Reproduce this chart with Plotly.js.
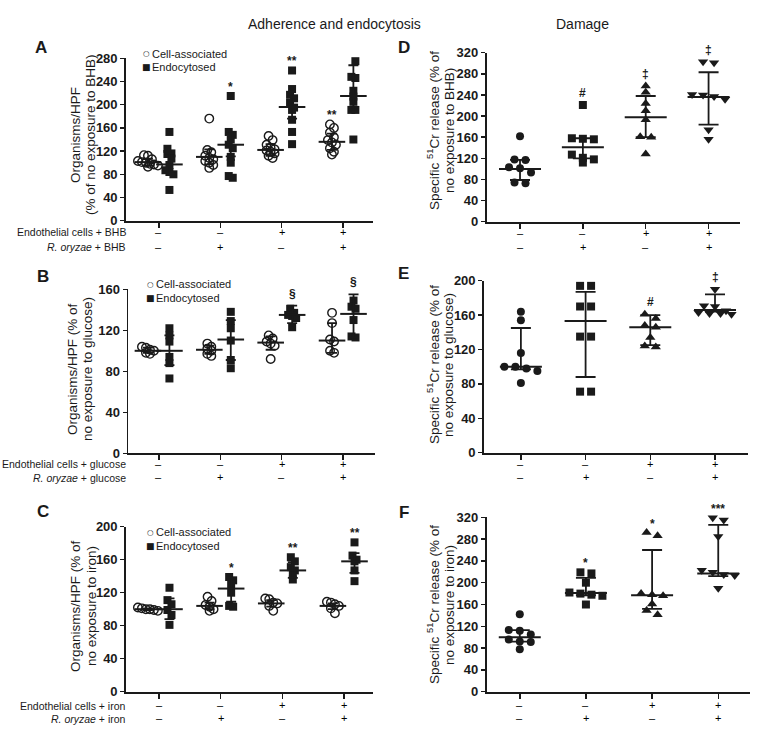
<!DOCTYPE html>
<html><head><meta charset="utf-8">
<script src="https://cdn.plot.ly/plotly-3.0.1.min.js"></script>
<style>body{margin:0;background:#fff}</style>
</head><body><div id="chart" style="width:770px;height:732px"></div>
<script>
// ================= DATA =================
const groupTicks = [0, 1, 2, 3];
const endothelialRow = ['–', '–', '+', '+'];
const oryzaeRow = ['–', '+', '–', '+'];
const legendLabels = ['Cell-associated', 'Endocytosed'];
const columnTitles = ['Adherence and endocytosis', 'Damage'];

// Panel A (BHB, adherence / endocytosis)
const aCellAssoc = [[113,112,106,103,101,100,98,97,95,93],[176,122,118,112,108,106,103,100,96,91],[146,139,131,126,123,121,119,116,112,108],[166,160,152,144,139,135,131,125,119,114]];
const aEndocytosed = [[153,124,116,115,107,96,87,84,80,53],[215,153,148,140,131,125,110,100,77,74],[259,227,217,211,203,195,191,174,153,132],[281,275,248,246,224,214,205,191,191,140]];
const aCellMean = [101,110,122,136], aCellLow = [95,97,112,122], aCellHigh = [107,123,132,150];
const aEndoMean = [97,131,196,215], aEndoLow = [82,111,176,191], aEndoHigh = [116,151,214,268];
const aCellSig = ['','','','**'], aEndoSig = ['','*','**','**'];

// Panel B (glucose)
const bCellAssoc = [[104,103,101,100,98,97],[107,104,102,100,97,95],[115,112,109,107,105,92],[137,127,111,109,100,98]];
const bEndocytosed = [[122,115,109,94,88,73],[138,129,122,110,91,83],[141,137,135,134,132,123],[149,143,141,130,114,113]];
const bCellMean = [100,101,108,110], bCellLow = [98,97,101,98], bCellHigh = [103,105,114,127];
const bEndoMean = [100,111,135,136], bEndoLow = [86,91,127,113], bEndoHigh = [115,130,144,155];
const bCellSig = ['','','',''], bEndoSig = ['','','§','§'];

// Panel C (iron)
const cCellAssoc = [[102,101,100,100,99,98],[115,110,105,103,100,98],[113,112,108,107,104,98],[109,108,106,104,101,95]];
const cEndocytosed = [[126,111,106,99,93,81],[139,135,130,120,104,103],[163,158,151,147,143,136],[181,165,160,158,147,134]];
const cCellMean = [100,104,107,104], cCellLow = [99,100,103,100], cCellHigh = [101,108,111,107];
const cEndoMean = [100,125,147,158], cEndoLow = [88,109,138,144], cEndoHigh = [113,136,157,168];
const cCellSig = ['','','',''], cEndoSig = ['','*','**','**'];

// Panel D (damage, BHB)
const dValues = [[162,118,117,103,101,93,74,73],[221,158,157,156,127,121,118,112],[257,245,224,210,193,161,160,128],[303,301,241,240,237,232,174,156]];
const dCenter = [100,141,198,236], dLow = [79,120,160,184], dHigh = [117,158,238,283];
const dSig = ['','#','‡','‡'];

// Panel E (damage, glucose)
const eValues = [[164,154,116,100,100,98,95,81],[194,194,170,170,135,135,71,71],[161,156,148,146,134,124,123],[190,171,170,165,163,162,162,161]];
const eCenter = [100,153,146,166], eLow = [97,88,125,164], eHigh = [145,187,160,184];
const eSig = ['','','#','‡'];

// Panel F (damage, iron)
const fValues = [[142,113,112,105,96,92,91,78],[219,217,200,182,180,178,176,160],[292,286,180,178,176,161,149,141],[319,315,285,223,219,215,213,190]];
const fCenter = [100,181,177,217], fLow = [92,177,152,212], fHigh = [113,209,260,306];
const fSig = ['','*','*','***'];

// ================= STYLE / LAYOUT =================
const W = 770, H = 732;
const FONT = 'Arial, "Liberation Sans", Helvetica, sans-serif';
const INK = '#1a1a1a';
const CELL_OFF = -0.18, ENDO_OFF = 0.17;
const damageSymbols = ['circle', 'square', 'triangle-up', 'triangle-down'];
const px2x = p => p / W, px2y = p => 1 - p / H;

const panels = {
  A: {n:1, px:[126,373], py:[58.3,220.7], xr:[-0.538,3.49], ymax:280, dtick:40, rows:[231.7,246.7], letter:[41,48],
      ytitle:['Organisms/HPF','(% of no exposure to BHB)'], tx:[75,90], ty:135, rowLabels:['Endothelial cells + BHB','<i>R. oryzae</i> + BHB'], legend:[146,54]},
  D: {n:2, px:[486.7,740], py:[52.7,221.7], xr:[-0.53,3.5], ymax:320, dtick:40, rows:[232.7,246.7], letter:[404,48],
      ytitle:['Specific <sup>51</sup>Cr release (% of','no exposure to BHB)'], tx:[433,449], ty:131},
  B: {n:3, px:[128.3,375], py:[289.3,453.3], xr:[-0.5,3.52], ymax:160, dtick:40, rows:[463.5,477], letter:[43,276],
      ytitle:['Organisms/HPF (% of','no exposure to glucose)'], tx:[73,88], ty:369, rowLabels:['Endothelial cells + glucose','<i>R. oryzae</i> + glucose'], legend:[150,284]},
  E: {n:4, px:[484,748], py:[280.7,452.7], xr:[-0.57,3.51], ymax:200, dtick:40, rows:[463.5,476.5], letter:[404,273],
      ytitle:['Specific <sup>51</sup>Cr release (% of','no exposure to glucose)'], tx:[433,449], ty:365},
  C: {n:5, px:[126,373], py:[526.7,691.7], xr:[-0.535,3.47], ymax:200, dtick:40, rows:[705,718.3], letter:[43,511],
      ytitle:['Organisms/HPF (% of','no exposure to iron)'], tx:[75,91], ty:606, rowLabels:['Endothelial cells + iron','<i>R. oryzae</i> + iron'], legend:[150,532]},
  F: {n:6, px:[486.7,750], py:[517.3,691.7], xr:[-0.5,3.48], ymax:320, dtick:40, rows:[705,718], letter:[404,512],
      ytitle:['Specific <sup>51</sup>Cr release (% of','no exposure to iron)'], tx:[433,449], ty:605}
};

const layout = {
  width: W, height: H, margin: {l:0, r:0, t:0, b:0},
  paper_bgcolor: '#fff', plot_bgcolor: 'rgba(0,0,0,0)', showlegend: false,
  font: {family: FONT, color: INK}, annotations: []
};
const traces = [];
const ann = layout.annotations;

function axName(n, a) { return a + (n === 1 ? '' : n); }
function pxPerY(p) { return (p.py[1] - p.py[0]) / p.ymax; }
function pxPerCat(p) { return (p.px[1] - p.px[0]) / (p.xr[1] - p.xr[0]); }

// simple row-based swarm: near-equal values are spread horizontally
function swarm(vals, p, binPx, spacePx) {
  const ky = pxPerY(p), kc = pxPerCat(p);
  const offs = new Array(vals.length).fill(0);
  const idx = vals.map((v, i) => i).sort((a, b) => vals[b] - vals[a]);
  let row = [];
  const flush = () => { row.forEach((k, j) => { offs[k] = ((j - (row.length - 1) / 2) * spacePx) / kc; }); row = []; };
  idx.forEach(k => { if (row.length && (vals[row[0]] - vals[k]) * ky > binPx) flush(); row.push(k); });
  flush();
  return offs;
}

function setupAxes(key) {
  const p = panels[key];
  const xa = axName(p.n, 'xaxis'), ya = axName(p.n, 'yaxis');
  layout[xa] = {
    domain: [px2x(p.px[0]), px2x(p.px[1])], range: p.xr, anchor: axName(p.n, 'y'),
    showline: true, linewidth: 1.8, linecolor: INK, showgrid: false, zeroline: false,
    tickvals: groupTicks, ticks: 'outside', ticklen: 5, tickwidth: 1.5, tickcolor: INK, showticklabels: false, fixedrange: true
  };
  const tv = []; for (let v = 0; v <= p.ymax; v += p.dtick) tv.push(v);
  layout[ya] = {
    domain: [px2y(p.py[1]), px2y(p.py[0])], range: [0, p.ymax], anchor: axName(p.n, 'x'),
    showline: true, linewidth: 1.8, linecolor: INK, showgrid: false, zeroline: false,
    tickvals: tv, ticktext: tv.map(v => '<b>' + v + '</b>'), ticks: 'outside', ticklen: 4, tickwidth: 1.5, tickcolor: INK,
    tickfont: {family: FONT, size: 13, color: INK}, fixedrange: true
  };
  ann.push({xref:'paper', yref:'paper', x:px2x(p.letter[0]), y:px2y(p.letter[1]), text:'<b>'+key+'</b>', showarrow:false,
    font:{family:FONT, size:17, color:INK}, xanchor:'center', yanchor:'middle'});
  p.ytitle.forEach((t, i) => ann.push({xref:'paper', yref:'paper', x:px2x(p.tx[i]), y:px2y(p.ty), text:t, textangle:-90,
    showarrow:false, font:{family:FONT, size:13.5, color:INK}, xanchor:'center', yanchor:'middle'}));
  [endothelialRow, oryzaeRow].forEach((row, r) => row.forEach((s, g) => ann.push({
    xref: axName(p.n, 'x'), yref: 'paper', x: groupTicks[g], y: px2y(p.rows[r]), text: s, showarrow: false,
    font: {family: FONT, size: 11, color: '#000'}, xanchor: 'center', yanchor: 'middle'})));
  if (p.rowLabels) p.rowLabels.forEach((t, r) => ann.push({xref:'paper', yref:'paper', x:px2x(128), y:px2y(p.rows[r] + 0.5), text:t,
    showarrow:false, font:{family:FONT, size:10.5, color:INK}, xanchor:'right', yanchor:'middle'}));
  if (p.legend) {
    const lx = p.legend[0], ly = p.legend[1];
    [['○', 7.5], ['■', 9]].forEach((s, i) => {
      ann.push({xref:'paper', yref:'paper', x:px2x(lx), y:px2y(ly + i*13.5), text:s[0], showarrow:false,
        font:{family:'DejaVu Sans', size:s[1], color:INK}, xanchor:'center', yanchor:'middle'});
      ann.push({xref:'paper', yref:'paper', x:px2x(lx + 4), y:px2y(ly + i*13.5), text:legendLabels[i], showarrow:false,
        font:{family:FONT, size:11, color:INK}, xanchor:'left', yanchor:'middle'});
    });
  }
  return p;
}

function barTrace(p, xs, mean, low, high, lineW, capW) {
  return {type:'scatter', mode:'markers', x:xs, y:mean, xaxis:axName(p.n,'x'), yaxis:axName(p.n,'y'), cliponaxis:false, hoverinfo:'skip',
    marker:{symbol:'line-ew', size:lineW, color:INK, line:{width:2, color:INK}},
    error_y:{type:'data', symmetric:false, array:high.map((h,i)=>h-mean[i]), arrayminus:mean.map((m,i)=>m-low[i]),
      thickness:1.8, width:capW, color:INK}};
}

function sigAnn(p, x, yv, text) {
  if (!text) return;
  ann.push({xref:axName(p.n,'x'), yref:axName(p.n,'y'), x:x, y:yv, text:'<b>'+text+'</b>', showarrow:false,
    font:{family:FONT, size:12, color:INK}, xanchor:'center', yanchor:'bottom', yshift: text.indexOf('*') >= 0 ? 0 : 3});
}

function dualPanel(key, cell, endo, cm, cl, ch, em, el, eh, cs, es) {
  const p = setupAxes(key);
  const sets = [[cell, CELL_OFF, 'circle-open', cm, cl, ch, cs], [endo, ENDO_OFF, 'square', em, el, eh, es]];
  sets.forEach(([groups, off, sym, m, lo, hi, sig]) => {
    const xs = [], ys = [];
    groups.forEach((vals, g) => {
      const o = swarm(vals, p, 5, 4);
      vals.forEach((v, i) => { xs.push(groupTicks[g] + off + o[i]); ys.push(v); });
      sigAnn(p, groupTicks[g] + off, Math.max(Math.max(...vals), hi[g]), sig[g]);
    });
    traces.push({type:'scatter', mode:'markers', x:xs, y:ys, xaxis:axName(p.n,'x'), yaxis:axName(p.n,'y'), cliponaxis:false, hoverinfo:'skip',
      marker:{symbol:sym, size: sym === 'square' ? 8 : 8.5, color:INK, line:{width: sym === 'square' ? 0 : 1.4, color:INK}}});
  });
  sets.forEach(([groups, off, sym, m, lo, hi]) => traces.push(barTrace(p, groupTicks.map(g => g + off), m, lo, hi, 19, 5)));
}

function damagePanel(key, values, center, low, high, sig) {
  const p = setupAxes(key);
  values.forEach((vals, g) => {
    const o = swarm(vals, p, 6, 11);
    traces.push({type:'scatter', mode:'markers', x:vals.map((v, i) => groupTicks[g] + o[i]), y:vals,
      xaxis:axName(p.n,'x'), yaxis:axName(p.n,'y'), cliponaxis:false, hoverinfo:'skip',
      marker:{symbol:damageSymbols[g], size: g >= 2 ? 9 : 8, color:INK, line:{width:0}}});
    sigAnn(p, groupTicks[g], Math.max(Math.max(...vals), high[g]), sig[g]);
  });
  traces.push(barTrace(p, groupTicks, center, low, high, 30, 10));
}

dualPanel('A', aCellAssoc, aEndocytosed, aCellMean, aCellLow, aCellHigh, aEndoMean, aEndoLow, aEndoHigh, aCellSig, aEndoSig);
dualPanel('B', bCellAssoc, bEndocytosed, bCellMean, bCellLow, bCellHigh, bEndoMean, bEndoLow, bEndoHigh, bCellSig, bEndoSig);
dualPanel('C', cCellAssoc, cEndocytosed, cCellMean, cCellLow, cCellHigh, cEndoMean, cEndoLow, cEndoHigh, cCellSig, cEndoSig);
damagePanel('D', dValues, dCenter, dLow, dHigh, dSig);
damagePanel('E', eValues, eCenter, eLow, eHigh, eSig);
damagePanel('F', fValues, fCenter, fLow, fHigh, fSig);

ann.push({xref:'paper', yref:'paper', x:px2x(246), y:px2y(24), text:columnTitles[0], showarrow:false, font:{family:FONT, size:14, color:INK}, yanchor:'middle'});
ann.push({xref:'paper', yref:'paper', x:px2x(611), y:px2y(24), text:columnTitles[1], showarrow:false, font:{family:FONT, size:14, color:INK}, yanchor:'middle'});

Plotly.newPlot('chart', traces, layout, {staticPlot: true, displayModeBar: false});
</script>
</body></html>
